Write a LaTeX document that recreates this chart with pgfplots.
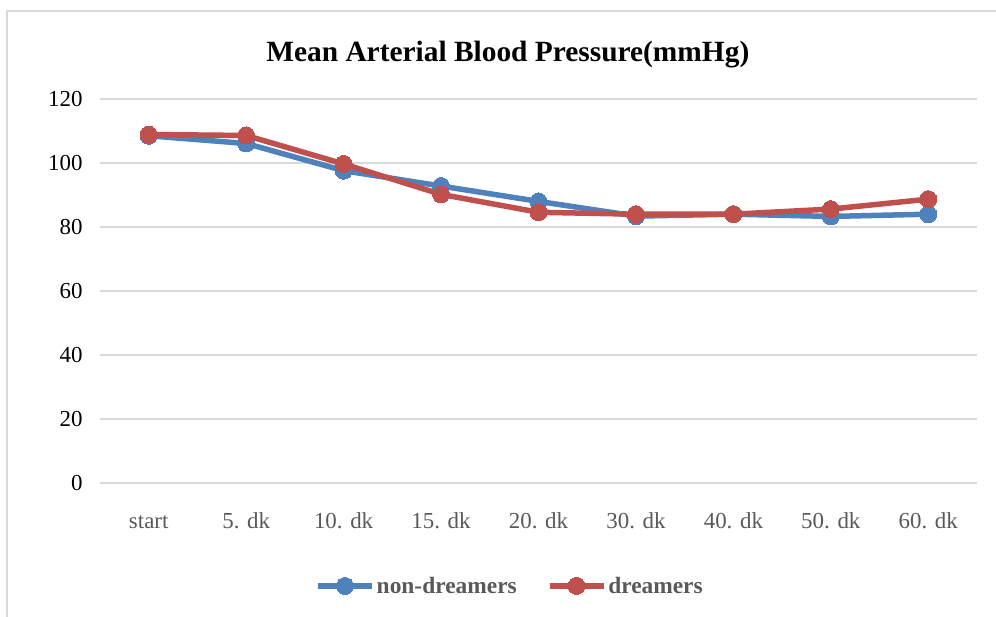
\documentclass[border=0pt]{standalone}
\usepackage{fontspec}
\setmainfont{Liberation Serif}
\usepackage{pgfplots}
\pgfplotsset{compat=1.18}
\definecolor{cblue}{HTML}{4F81BD}
\definecolor{cred}{HTML}{C0504D}
\definecolor{cgrid}{HTML}{D9D9D9}
\definecolor{cgray}{HTML}{595959}
\begin{document}
\begin{tikzpicture}
\useasboundingbox (0,0) rectangle (996bp,617bp);
\draw[cgrid, line width=2bp] (7bp,0) -- (7bp,606bp) -- (996bp,606bp);
\begin{axis}[
  at={(100bp,134bp)}, anchor=south west,
  scale only axis, width=877bp, height=384bp,
  xmin=-0.5, xmax=8.5, ymin=0, ymax=120,
  ytick={0,20,...,120},
  xtick={0,...,8},
  xticklabels={start,5. dk,10. dk,15. dk,20. dk,30. dk,40. dk,50. dk,60. dk},
  /pgf/number format/assume math mode=true,
  axis line style={draw=none},
  tick style={draw=none},
  ymajorgrids, grid style={cgrid, line width=1.5bp},
  yticklabel style={font=\fontsize{23}{26}\selectfont, black, xshift=-14bp},
  xticklabel style={font=\fontsize{23}{26}\selectfont, cgray, text height=16bp, text depth=5bp, yshift=-26bp},
  title={\textbf{Mean Arterial Blood Pressure(mmHg)}},
  title style={font=\fontsize{29.5}{34}\selectfont, at={(axis description cs:0.465,1.10)}, anchor=center},
  legend columns=2,
  legend style={at={(axis description cs:0.4675,-0.268)}, anchor=center, draw=none,
    font=\fontsize{23.5}{27}\selectfont\bfseries, text=cgray,
    /tikz/every even column/.append style={column sep=28bp}},
  legend image code/.code={\draw[mark repeat=2,mark phase=2] plot coordinates {(0bp,0bp)(27bp,0bp)(54bp,0bp)};},
]
\addplot[cblue, line width=5.5bp, mark=*, mark size=8.5bp, mark options={fill=cblue, draw=cblue, line width=0bp}]
  coordinates {(0,108.5)(1,106.1)(2,97.6)(3,92.8)(4,88.0)(5,83.4)(6,84.0)(7,83.3)(8,84.0)};
\addlegendentry{non-dreamers}
\addplot[cred, line width=5.5bp, mark=*, mark size=8.5bp, mark options={fill=cred, draw=cred, line width=0bp}]
  coordinates {(0,108.9)(1,108.6)(2,99.7)(3,90.2)(4,84.6)(5,84.0)(6,84.0)(7,85.6)(8,88.7)};
\addlegendentry{dreamers}
\end{axis}
\end{tikzpicture}
\end{document}
